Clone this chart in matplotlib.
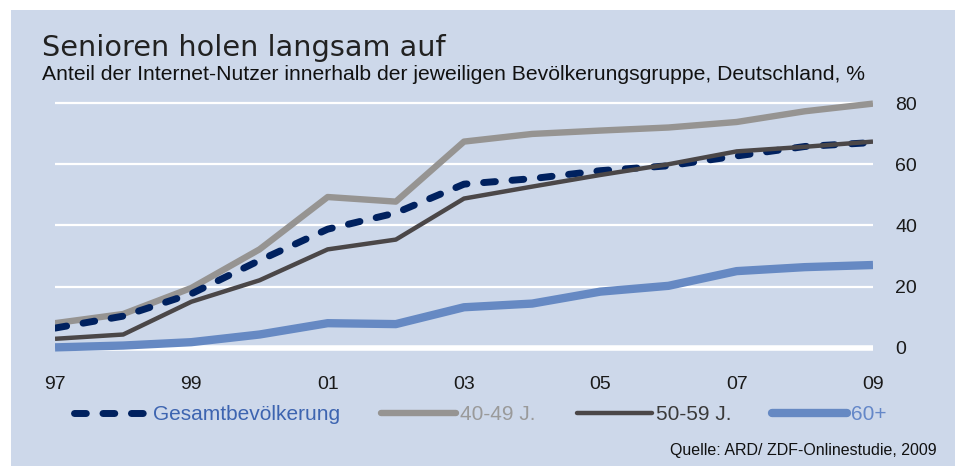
import matplotlib
matplotlib.use("Agg")
import matplotlib.pyplot as plt
from matplotlib.patches import Rectangle

years = [1997, 1998, 1999, 2000, 2001, 2002, 2003, 2004, 2005, 2006, 2007, 2008, 2009]
gesamt = [6.5, 10.4, 17.7, 28.6, 38.8, 44.1, 53.5, 55.3, 57.9, 59.5, 62.7, 65.8, 67.1]
j40_49 = [8.1, 11.1, 19.6, 32.2, 49.3, 47.8, 67.4, 69.9, 71.0, 72.0, 73.8, 77.3, 79.8]
j50_59 = [3.0, 4.4, 15.1, 22.1, 32.2, 35.4, 48.8, 52.7, 56.5, 60.0, 64.2, 65.7, 67.4]
ue60 = [0.2, 0.8, 1.9, 4.4, 8.1, 7.8, 13.3, 14.5, 18.4, 20.3, 25.1, 26.4, 27.1]

xticks = [1997, 1999, 2001, 2003, 2005, 2007, 2009]
xticklabels = ["97", "99", "01", "03", "05", "07", "09"]
yticks = [0, 20, 40, 60, 80]

bg = "#cdd8ea"
navy = "#00215f"
grey = "#969492"
dark = "#4b4748"
blue = "#6689c3"

plt.rcParams['font.family'] = ['Liberation Sans', 'DejaVu Sans']

fig = plt.figure(figsize=(9.58, 4.66), dpi=100)
fig.patch.set_facecolor("white")
fig.patches.append(Rectangle((11 / 958, 0), 944 / 958, 456 / 466,
                             transform=fig.transFigure, facecolor=bg,
                             edgecolor="none", zorder=-5))

ax = fig.add_axes([55 / 958, 0.2401, 818 / 958, 0.552])
ax.set_facecolor("none")
ax.set_xlim(1997, 2009)
ax.set_ylim(-2, 82)

# gridlines
for v in yticks:
    ax.axhline(v, color="white", lw=4 if v == 0 else 1.6, zorder=1)

ax.plot(years, ue60, color=blue, lw=6, solid_capstyle="butt", zorder=2,
        label="60+")
ax.plot(years, j40_49, color=grey, lw=4.6, solid_capstyle="butt", zorder=3,
        label="40-49 J.")
ax.plot(years, gesamt, color=navy, lw=5, dashes=(1.7, 2.4),
        dash_capstyle="round", zorder=4, label="Gesamtbevölkerung")
ax.plot(years, j50_59, color=dark, lw=3.2, solid_capstyle="butt", zorder=5,
        label="50-59 J.")

for s in ax.spines.values():
    s.set_visible(False)
ax.yaxis.tick_right()
ax.set_yticks(yticks)
ax.set_xticks(xticks)
ax.set_xticklabels(xticklabels)
ax.tick_params(axis="both", length=0, labelsize=14, colors="#1a1a1a")
ax.tick_params(axis="y", pad=16)
ax.tick_params(axis="x", pad=16)

handles, labels = ax.get_legend_handles_labels()
order = [2, 1, 3, 0]
leg = fig.legend([handles[i] for i in order], [labels[i] for i in order],
                 loc="center left", bbox_to_anchor=(66 / 958, 1 - 415 / 466),
                 ncol=4, frameon=False, fontsize=15, handlelength=3.6,
                 handletextpad=0.2, columnspacing=1.95, borderaxespad=0)
for line in leg.get_lines():
    line.set_solid_capstyle("round")
    line.set_dash_capstyle("round")
for txt, c in zip(leg.get_texts(), ["#3d64b0", "#9a9a9a", "#3a3a3a", "#6487c8"]):
    txt.set_color(c)

fig.text(42 / 958, 1 - 48 / 466, "Senioren holen langsam auf",
         family="DejaVu Sans", fontsize=20.7, color="#222222", va="center")
fig.text(42 / 958, 1 - 75 / 466,
         "Anteil der Internet-Nutzer innerhalb der jeweiligen Bevölkerungsgruppe, Deutschland, %",
         fontsize=15.2, color="#111111", va="center")
fig.text(937 / 958, 1 - 451 / 466, "Quelle: ARD/ ZDF-Onlinestudie, 2009",
         fontsize=11.5, color="#111111", ha="right", va="center")

fig.savefig("out.png", dpi=100)
